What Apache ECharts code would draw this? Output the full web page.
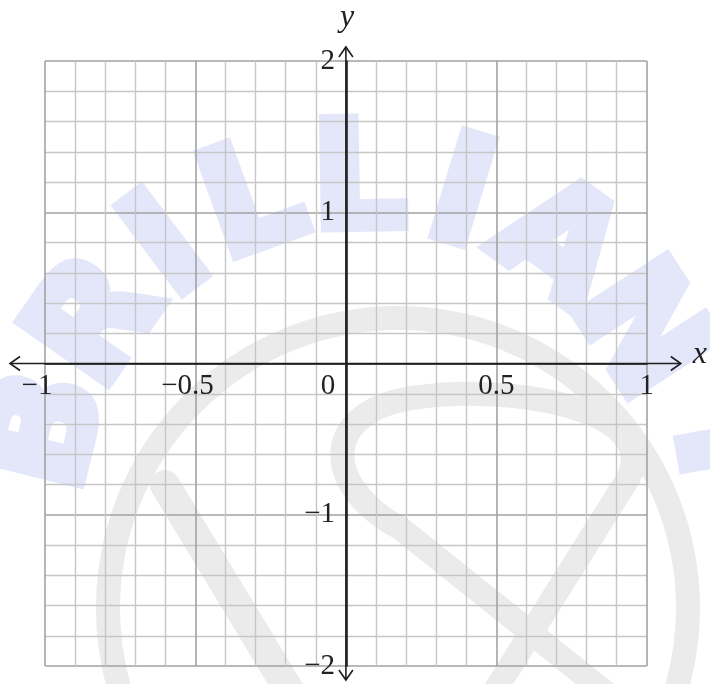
<!DOCTYPE html>
<html>
<head>
<meta charset="utf-8">
<script src="https://cdn.jsdelivr.net/npm/echarts@6/dist/echarts.min.js"></script>
<style>
  html, body { margin: 0; padding: 0; background: #fff; }
  #chart { width: 710px; height: 684px; }
</style>
</head>
<body>
<div id="chart"></div>
<script>
// axis ranges and tick steps
const xRange = [-1, 1];
const yRange = [-2, 2];
const xMajorStep = 0.5;
const yMajorStep = 1;
const minorPerMajor = 5;
const xTickLabels = ['−1', '−0.5', '0', '0.5', '1'];
const yTickLabels = ['−2', '−1', '', '1', '2'];
const watermarkLetters = ['B', 'R', 'I', 'L', 'L', 'I', 'A', 'N', 'T'];
const watermarkAngles = [166, 145, 127, 110, 91, 73, 54, 33, 10];

const serif = '"Liberation Serif", "DejaVu Serif", serif';
const labelSize = 29;
const minorColor = '#c6c6c6';
const majorColor = '#a2a2a2';
const axisColor = '#1e1e1e';

const gridBox = { left: 45, top: 61, width: 604, height: 605 };

const chart = echarts.init(document.getElementById('chart'), null, { renderer: 'canvas' });

const xLabel = (v) => {
  const s = xTickLabels[Math.round((v - xRange[0]) / xMajorStep)];
  if (v === 0) return '{z|' + s + '}';
  if (v < 0) return '{n|' + s + '}';
  return '{p|' + s + '}';
};
const yLabel = (v) => yTickLabels[Math.round((v - yRange[0]) / yMajorStep)];

const labelRich = {
  z: { fontFamily: serif, fontSize: labelSize, color: '#222', padding: [0, 36, 0, 0] },
  n: { fontFamily: serif, fontSize: labelSize, color: '#222', padding: [0, 16, 0, 0] },
  p: { fontFamily: serif, fontSize: labelSize, color: '#222' },
};

// watermark, drawn behind the grid
const watermark = () => {
  const out = [];
  const cx = 365, cy = 510;
  watermarkLetters.forEach((ch, i) => {
    const a = watermarkAngles[i] * Math.PI / 180;
    const r = i === watermarkLetters.length - 1 ? 360 : 322;
    out.push({
      type: 'text', z: -10, silent: true,
      x: cx + r * Math.cos(a), y: cy - r * Math.sin(a),
      rotation: a - Math.PI / 2,
      style: {
        text: ch, fill: '#e4e7fa', stroke: '#e4e7fa', lineWidth: 12, lineJoin: 'round',
        align: 'center', verticalAlign: 'middle',
        font: 'bold 146px "DejaVu Sans", sans-serif',
      },
    });
  });
  const grey = { fill: 'none', stroke: '#ebebeb', lineWidth: 24, lineCap: 'round' };
  out.push({ type: 'circle', z: -11, silent: true, shape: { cx: 398, cy: 608, r: 290 }, style: grey });
  out.push({ type: 'bezierCurve', z: -11, silent: true,
    shape: { x1: 629, y1: 477, cpx1: 660, cpy1: 405, cpx2: 500, cpy2: 385, x2: 420, y2: 397 }, style: grey });
  out.push({ type: 'bezierCurve', z: -11, silent: true,
    shape: { x1: 420, y1: 397, cpx1: 320, cpy1: 408, cpx2: 320, cpy2: 485, x2: 400, y2: 528 }, style: grey });
  out.push({ type: 'line', z: -11, silent: true, shape: { x1: 400, y1: 528, x2: 615, y2: 700 }, style: grey });
  out.push({ type: 'line', z: -11, silent: true, shape: { x1: 629, y1: 477, x2: 489, y2: 700 }, style: grey });
  out.push({ type: 'line', z: -11, silent: true, shape: { x1: 165, y1: 485, x2: 295, y2: 700 }, style: Object.assign({}, grey, { lineWidth: 30 }) });
  return out;
};

const option = {
  animation: false,
  backgroundColor: '#fff',
  grid: Object.assign({ containLabel: false }, gridBox),
  xAxis: {
    type: 'value',
    min: xRange[0], max: xRange[1], interval: xMajorStep,
    position: 'bottom',
    // move the axis (and its labels) up to y = 0
    offset: -gridBox.height * (0 - yRange[0]) / (yRange[1] - yRange[0]),
    name: 'x', nameLocation: 'end', nameGap: 46,
    nameTextStyle: { fontFamily: serif, fontStyle: 'italic', fontSize: 32, color: '#222', verticalAlign: 'bottom', lineHeight: 18 },
    axisLine: { onZero: false, lineStyle: { color: axisColor, width: 1.6 } },
    axisTick: { show: false },
    axisLabel: { formatter: xLabel, rich: labelRich, margin: 8, showMinLabel: true, showMaxLabel: true, hideOverlap: false },
    splitLine: { show: true, lineStyle: { color: majorColor, width: 1.6 } },
    minorTick: { show: false, splitNumber: minorPerMajor },
    minorSplitLine: { show: true, lineStyle: { color: minorColor, width: 1.4 } },
  },
  yAxis: {
    type: 'value',
    min: yRange[0], max: yRange[1], interval: yMajorStep,
    position: 'left',
    // move the axis (and its labels) right to x = 0
    offset: -gridBox.width * (0 - xRange[0]) / (xRange[1] - xRange[0]),
    name: 'y', nameLocation: 'end', nameGap: 27,
    nameTextStyle: { fontFamily: serif, fontStyle: 'italic', fontSize: 32, color: '#222' },
    axisLine: { onZero: false, lineStyle: { color: axisColor, width: 1.6 } },
    axisTick: { show: false },
    axisLabel: { formatter: yLabel, fontFamily: serif, fontSize: labelSize, color: '#222', margin: 12, showMinLabel: true, showMaxLabel: true, hideOverlap: false },
    splitLine: { show: true, lineStyle: { color: majorColor, width: 1.6 } },
    minorTick: { show: false, splitNumber: minorPerMajor },
    minorSplitLine: { show: true, lineStyle: { color: minorColor, width: 1.4 } },
  },
  series: [{ type: 'line', data: [], silent: true }],
  graphic: watermark(),
};

chart.setOption(option);

// axis extensions past the grid with open arrow heads
const [xl, y0] = chart.convertToPixel({ gridIndex: 0 }, [xRange[0], 0]);
const [xr] = chart.convertToPixel({ gridIndex: 0 }, [xRange[1], 0]);
const [x0, yt] = chart.convertToPixel({ gridIndex: 0 }, [0, yRange[1]]);
const [, yb] = chart.convertToPixel({ gridIndex: 0 }, [0, yRange[0]]);
const ax = { fill: 'none', stroke: axisColor, lineWidth: 1.6 };
const tipL = xl - 35, tipR = xr + 34, tipT = yt - 14, tipB = yb + 14;
const extras = [
  { type: 'line', shape: { x1: tipL, y1: y0, x2: tipR, y2: y0 }, style: ax },
  { type: 'line', shape: { x1: x0, y1: tipT, x2: x0, y2: tipB }, style: ax },
  { type: 'polyline', shape: { points: [[tipL + 10, y0 - 7], [tipL, y0], [tipL + 10, y0 + 7]] }, style: ax },
  { type: 'polyline', shape: { points: [[tipR - 10, y0 - 7], [tipR, y0], [tipR - 10, y0 + 7]] }, style: ax },
  { type: 'polyline', shape: { points: [[x0 - 7, tipT + 10], [x0, tipT], [x0 + 7, tipT + 10]] }, style: ax },
  { type: 'polyline', shape: { points: [[x0 - 7, tipB - 10], [x0, tipB], [x0 + 7, tipB - 10]] }, style: ax },
].map((g) => Object.assign({ z: 10, silent: true }, g));

chart.setOption({ graphic: watermark().concat(extras) }, { replaceMerge: ['graphic'] });
</script>
</body>
</html>
